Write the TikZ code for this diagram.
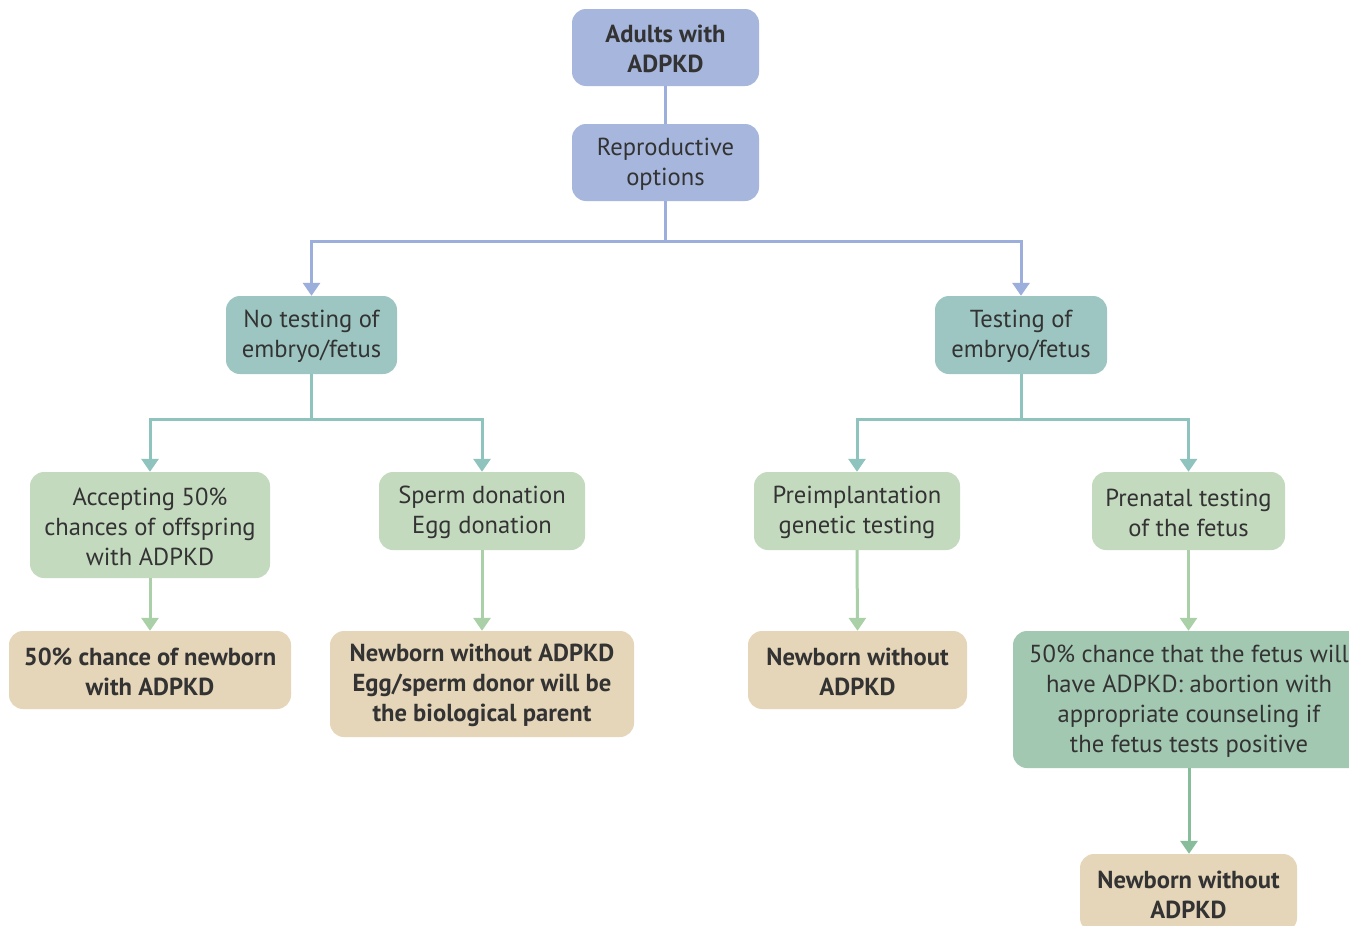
\documentclass[tikz,border=0pt]{standalone}
\usepackage{fontspec}
\setmainfont{PT Sans}
\usetikzlibrary{arrows.meta}
\definecolor{boxblue}{HTML}{A6B6DC}
\definecolor{boxteal}{HTML}{9DC6C2}
\definecolor{boxgreen}{HTML}{C4DABF}
\definecolor{boxdeep}{HTML}{A2C8B1}
\definecolor{boxtan}{HTML}{E6D6B9}
\definecolor{lnblue}{HTML}{9CAEDB}
\definecolor{lnteal}{HTML}{8FC3BE}
\definecolor{lngreen}{HTML}{A9D0A6}
\definecolor{lndeep}{HTML}{88BD9C}
\definecolor{txt}{HTML}{333333}
% strut on the first line of each label: sets the text block a little lower in its box
\newcommand\lead{\rule{0pt}{21pt}}
\tikzset{
  box/.style={rounded corners=14pt, inner sep=0pt, align=center, text=txt,
    font=\fontsize{24.6}{30}\selectfont},
  bbox/.style={box, font=\fontsize{24.6}{30}\selectfont\bfseries},
  link/.style={line width=3pt},
  tip/.style={-{Triangle[width=17pt,length=13pt]}}
}
\begin{document}
\begin{tikzpicture}[x=1pt,y=-1pt]
\useasboundingbox (0,0) rectangle (1349,926);
\fill[white] (0,0) rectangle (1349,926);

% top row
\node[bbox, fill=boxblue, minimum width=187pt, minimum height=77pt] (adults) at (665.5,47.5) {\lead Adults with\\ADPKD};
\node[box, fill=boxblue, minimum width=187pt, minimum height=77pt] (repro) at (665.5,162.5) {\lead Reproductive\\options};

% second row
\node[box, fill=boxteal, minimum width=171pt, minimum height=78pt] (notest) at (311.5,335) {\lead No testing of\\embryo/fetus};
\node[box, fill=boxteal, minimum width=172pt, minimum height=78pt] (test) at (1021,335) {\lead Testing of\\embryo/fetus};

% third row
\node[box, fill=boxgreen, minimum width=240pt, minimum height=106pt] (accept) at (150,525) {\lead Accepting 50\%\\chances of offspring\\with ADPKD};
\node[box, fill=boxgreen, minimum width=206pt, minimum height=78pt] (donor) at (482,511) {\lead Sperm donation\\Egg donation};
\node[box, fill=boxgreen, minimum width=206pt, minimum height=78pt] (pgt) at (857,511) {\lead Preimplantation\\genetic testing};
\node[box, fill=boxgreen, minimum width=193pt, minimum height=78pt] (prenatal) at (1188.5,511) {\lead Prenatal testing\\of the fetus};

% outcomes
\node[bbox, fill=boxtan, minimum width=282pt, minimum height=78pt] (half) at (150,670) {\lead 50\% chance of newborn\\with ADPKD};
\node[bbox, fill=boxtan, minimum width=304pt, minimum height=106pt] (nodonor) at (482,684) {\lead Newborn without ADPKD\\Egg/sperm donor will be\\the biological parent};
\node[bbox, fill=boxtan, minimum width=219pt, minimum height=78pt] (nopgt) at (857.5,670) {\lead Newborn without\\ADPKD};
\node[box, fill=boxdeep, minimum width=352pt, minimum height=137pt] (abort) at (1189,699.5) {\lead 50\% chance that the fetus will\\have ADPKD: abortion with\\appropriate counseling if\\the fetus tests positive};
\node[bbox, fill=boxtan, minimum width=217pt, minimum height=78pt] (noabort) at (1188.5,893) {\lead Newborn without\\ADPKD};

% junctions
\coordinate (j1) at (665.5,241);
\coordinate (j2) at (311.5,419);
\coordinate (j3) at (1021,419);

% connectors
\draw[link, lnblue] (adults.south) -- (repro.north);
\draw[link, lnblue] (repro.south) -- (j1);
\draw[link, lnblue, tip] (j1) -| (notest.north);
\draw[link, lnblue, tip] (j1) -| (test.north);

\draw[link, lnteal] (notest.south) -- (j2);
\draw[link, lnteal, tip] (j2) -| (accept.north);
\draw[link, lnteal, tip] (j2) -| (donor.north);
\draw[link, lnteal] (test.south) -- (j3);
\draw[link, lnteal, tip] (j3) -| (pgt.north);
\draw[link, lnteal, tip] (j3) -| (prenatal.north);

\draw[link, lngreen, tip] (accept.south) -- (half.north);
\draw[link, lngreen, tip] (donor.south) -- (nodonor.north);
\draw[link, lngreen, tip] (pgt.south) -- (nopgt.north);
\draw[link, lngreen, tip] (prenatal.south) -- (prenatal.south |- abort.north);
\draw[link, lndeep, tip] (abort.south) -- (abort.south |- noabort.north);
\end{tikzpicture}
\end{document}
